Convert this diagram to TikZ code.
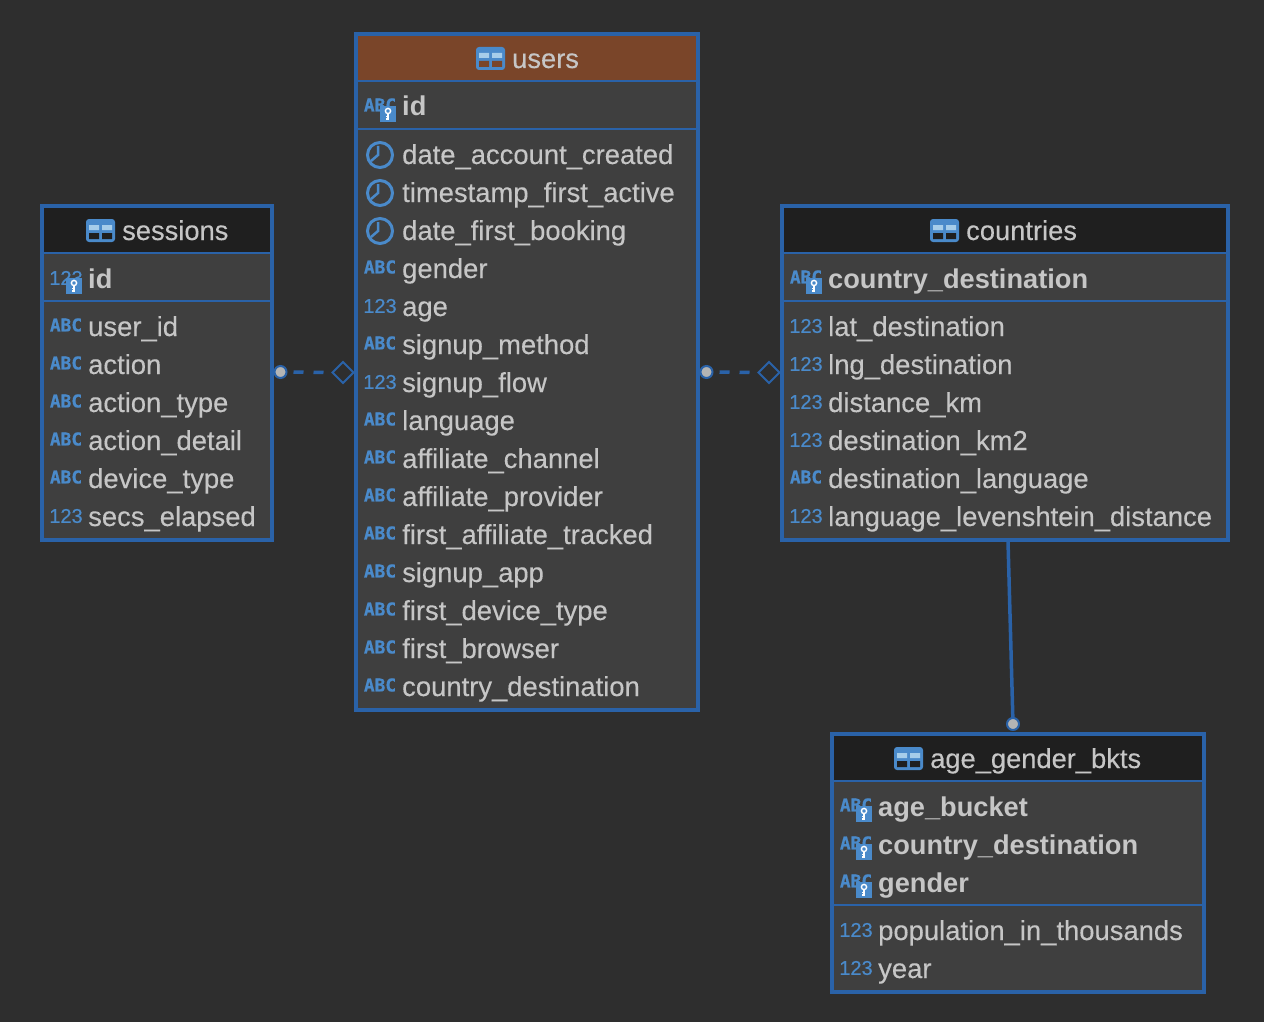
\documentclass[tikz,border=0pt]{standalone}
\usepackage{fontspec}
\setmainfont{Liberation Sans}
\newfontfamily\abcfont{DejaVu Sans Mono Bold}[FakeBold=0.6]
\newfontfamily\fieldfont{Liberation Sans}[FakeBold=0.25]
\newfontfamily\numfont{Liberation Sans}[FakeBold=0.5]
\usetikzlibrary{shapes.geometric}

\definecolor{canvasbg}{HTML}{2E2E2E}
\definecolor{bodybg}{HTML}{3F3F3F}
\definecolor{headbg}{HTML}{1F1F1F}
\definecolor{usershead}{HTML}{7A4529}
\definecolor{edgeblue}{HTML}{2A62A8}
\definecolor{iconblue}{HTML}{4A8ACA}
\definecolor{iconlight}{HTML}{A6CDEA}
\definecolor{fieldtext}{HTML}{C6C6C6}
\definecolor{dotgrey}{HTML}{B4B4B4}

\tikzset{
  tablebox/.style={draw=edgeblue, fill=bodybg, line width=4pt, inner sep=0pt, outer sep=0pt, anchor=north west},
  headband/.style={inner sep=0pt, outer sep=0pt, anchor=north west},
  seprule/.style={draw=edgeblue, line width=2pt},
  headtext/.style={text=fieldtext, inner sep=0pt, anchor=base west, font=\fieldfont\fontsize{27.3}{30}\selectfont},
  fieldname/.style={text=fieldtext, inner sep=0pt, anchor=base west, font=\fieldfont\fontsize{27.4}{30}\selectfont},
  keyname/.style={fieldname, font=\bfseries\fontsize{27.2}{30}\selectfont},
  abctag/.style={text=iconblue, inner sep=0pt, font=\abcfont\fontsize{17.8}{20}\selectfont},
  numtag/.style={text=iconblue, inner sep=0pt, font=\numfont\fontsize{20}{22}\selectfont},
  reldot/.style={circle, draw=edgeblue, fill=dotgrey, line width=2pt, minimum size=12pt, inner sep=0pt, outer sep=0pt},
  reldiamond/.style={diamond, draw=edgeblue, line width=2pt, minimum size=21pt, inner sep=0pt, outer sep=0pt},
  relline/.style={draw=edgeblue, line width=3.5pt},
  reldash/.style={relline, dash pattern=on 10pt off 10pt, dash phase=13pt}
}

% tag in front of a field: name, table left, row centre
\newcommand{\fieldiconabc}[3]{\node (#1-tag) [abctag] at ({#2+24},{#3-2}) {ABC};}
\newcommand{\fieldiconnum}[3]{\node (#1-tag) [numtag] at ({#2+24},{#3-1}) {123};}
\newcommand{\fieldiconclock}[3]{
  \begin{scope}[shift={(#2,#3)}]
    \node (#1-tag) [circle, draw=iconblue, line width=3pt, minimum size=25pt, inner sep=0pt] at (24,0) {};
    \draw[iconblue, line width=2.5pt] (22,-9) -- (22,0) -- (15,6);
  \end{scope}
}
\newcommand{\keybadge}[2]{
  \begin{scope}[shift={({#1+24},{#2-1})}]
    \fill[iconblue] (0,0) rectangle (16,16);
    \draw[white, line width=1.4pt] (8,5) circle (2.6pt);
    \draw[white, line width=1.4pt] (8,7.5) -- (8,14) (8,10.5) -- (5.5,10.5) (8,13) -- (5.5,13);
  \end{scope}
}
\newcommand{\fieldrow}[5]{
  \csname fieldicon#4\endcsname{#1}{#2}{#3}
  \node (#1) [fieldname] at ({#2+46},{#3+9}) {#5};
}
\newcommand{\keyrow}[5]{
  \csname fieldicon#4\endcsname{#1}{#2}{#3}
  \keybadge{#2}{#3}
  \node (#1) [keyname] at ({#2+46},{#3+9}) {#5};
}
% table frame: name, left, top, right, bottom, header colour, icon left, title
\newcommand{\tableframe}[8]{
  \node (#1) [tablebox, minimum width={(#4-#2)*1pt}, minimum height={(#5-#3)*1pt}] at (#2,#3) {};
  \node (#1-head) [headband, fill=#6, minimum width={(#4-#2-4)*1pt}, minimum height=46pt] at ({#2+2},{#3+2}) {};
  \begin{scope}[shift={(#7,{#3+13})}]
    \fill[iconblue, rounded corners=3pt] (0,0) rectangle (29,23);
    \fill[iconlight] (3,6) rectangle (13,11) (16,6) rectangle (26,11);
    \fill[#6] (3,14) rectangle (13,20) (16,14) rectangle (26,20);
  \end{scope}
  \node (#1-title) [headtext] at ({#7+36},{#3+34}) {#8};
}

\begin{document}
\begin{tikzpicture}[x=1pt, y=-1pt]
  \useasboundingbox (0,0) rectangle (1264,1022);
  \fill[canvasbg] (0,0) rectangle (1264,1022);

  % users
  \tableframe{users}{356}{34}{698}{710}{usershead}{476}{users}
  \draw[seprule] (356,81) -- (698,81);
  \draw[seprule] (356,129) -- (698,129);
  \keyrow{users-id}{356}{107}{abc}{id}
  \foreach \kind/\field [count=\n from 0] in {clock/date\_account\_created, clock/timestamp\_first\_active,
      clock/date\_first\_booking, abc/gender, num/age, abc/signup\_method, num/signup\_flow, abc/language,
      abc/affiliate\_channel, abc/affiliate\_provider, abc/first\_affiliate\_tracked, abc/signup\_app,
      abc/first\_device\_type, abc/first\_browser, abc/country\_destination}
    { \fieldrow{users-\n}{356}{155+38*\n}{\kind}{\field} }

  % sessions
  \tableframe{sessions}{42}{206}{272}{540}{headbg}{86}{sessions}
  \draw[seprule] (42,253) -- (272,253);
  \draw[seprule] (42,301) -- (272,301);
  \keyrow{sessions-id}{42}{279}{num}{id}
  \foreach \kind/\field [count=\n from 0] in {abc/user\_id, abc/action, abc/action\_type, abc/action\_detail,
      abc/device\_type, num/secs\_elapsed}
    { \fieldrow{sessions-\n}{42}{327+38*\n}{\kind}{\field} }

  % countries
  \tableframe{countries}{782}{206}{1228}{540}{headbg}{930}{countries}
  \draw[seprule] (782,253) -- (1228,253);
  \draw[seprule] (782,301) -- (1228,301);
  \keyrow{countries-id}{782}{279}{abc}{country\_destination}
  \foreach \kind/\field [count=\n from 0] in {num/lat\_destination, num/lng\_destination, num/distance\_km,
      num/destination\_km2, abc/destination\_language, num/language\_levenshtein\_distance}
    { \fieldrow{countries-\n}{782}{327+38*\n}{\kind}{\field} }

  % age_gender_bkts
  \tableframe{bkts}{832}{734}{1204}{992}{headbg}{894}{age\_gender\_bkts}
  \draw[seprule] (832,781) -- (1204,781);
  \draw[seprule] (832,905) -- (1204,905);
  \keyrow{bkts-k0}{832}{807}{abc}{age\_bucket}
  \keyrow{bkts-k1}{832}{845}{abc}{country\_destination}
  \keyrow{bkts-k2}{832}{883}{abc}{gender}
  \fieldrow{bkts-0}{832}{931}{num}{population\_in\_thousands}
  \fieldrow{bkts-1}{832}{969}{num}{year}

  % relations
  \node (sessionsdot) [reldot] at (280.5,372) {};
  \node (usersdiamond) [reldiamond] at (343,372.5) {};
  \draw[reldash] (sessionsdot) -- (usersdiamond);
  \node (usersdot) [reldot] at (706.5,372) {};
  \node (countriesdiamond) [reldiamond] at (769,372.5) {};
  \draw[reldash] (usersdot) -- (countriesdiamond);
  \coordinate (countriesfoot) at (1008,541);
  \node (bktsdot) [reldot] at (1013,724) {};
  \draw[relline] (countriesfoot) -- (bktsdot);
\end{tikzpicture}
\end{document}
